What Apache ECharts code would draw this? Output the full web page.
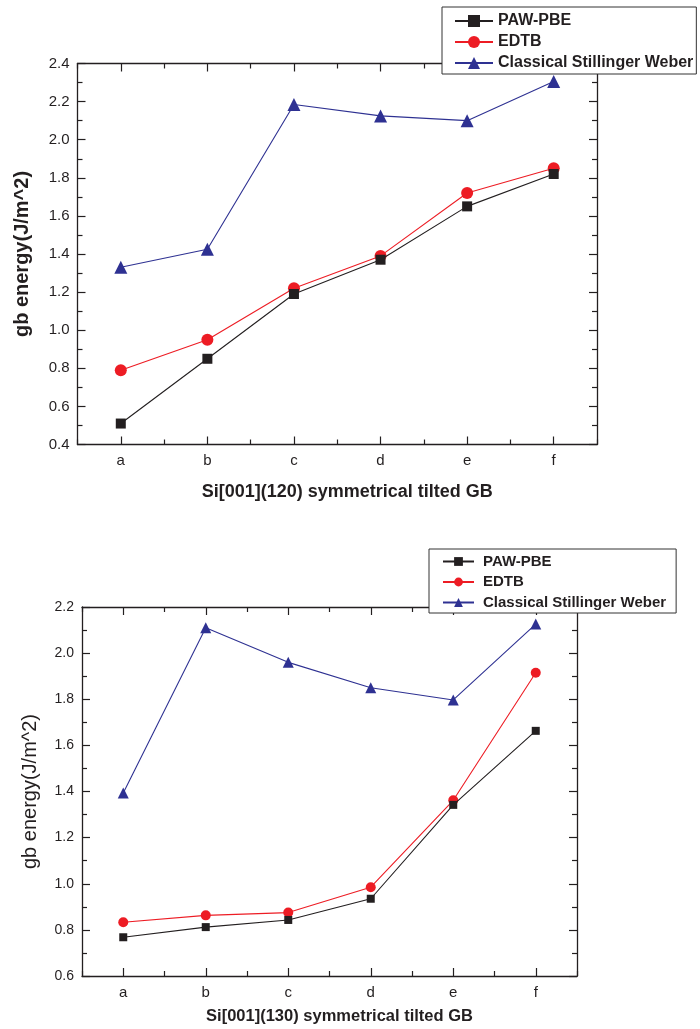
<!DOCTYPE html>
<html>
<head>
<meta charset="utf-8">
<script src="https://cdn.jsdelivr.net/npm/echarts@6/dist/echarts.min.js"></script>
<style>html,body{margin:0;padding:0;background:#fff;}#c{width:700px;height:1029px;}</style>
</head>
<body>
<div id="c"></div>
<script>
const categories = ['a', 'b', 'c', 'd', 'e', 'f'];
const seriesNames = ['PAW-PBE', 'EDTB', 'Classical Stillinger Weber'];
// Chart 1: Si[001](120)
const paw120 = [0.51, 0.85, 1.19, 1.37, 1.65, 1.82];
const edtb120 = [0.79, 0.95, 1.22, 1.39, 1.72, 1.85];
const sw120 = [1.33, 1.425, 2.185, 2.125, 2.10, 2.305];
// Chart 2: Si[001](130)
const paw130 = [0.768, 0.812, 0.843, 0.935, 1.342, 1.663];
const edtb130 = [0.833, 0.863, 0.875, 0.985, 1.362, 1.915];
const sw130 = [1.393, 2.11, 1.96, 1.85, 1.797, 2.126];
const yTicks120 = ['0.4','0.6','0.8','1.0','1.2','1.4','1.6','1.8','2.0','2.2','2.4'];
const yTicks130 = ['0.6','0.8','1.0','1.2','1.4','1.6','1.8','2.0','2.2'];
const xTitle120 = 'Si[001](120) symmetrical tilted GB';
const xTitle130 = 'Si[001](130) symmetrical tilted GB';
const yTitle = 'gb energy(J/m^2)';

const FONT = '"Liberation Sans", Arial, sans-serif';
const AX = '#231f20';
const colors = ['#231f20', '#ed1c24', '#2e3192'];
const symbols = ['rect', 'circle', 'triangle'];

function xAxes(gridIndex, labelSize, title, titleSize, gap) {
  const common = {type: 'category', data: categories, gridIndex: gridIndex, boundaryGap: true,
    axisLine: {show: true, onZero: false, lineStyle: {color: AX, width: 1.3}}, splitLine: {show: false}};
  return [
    Object.assign({}, common, {position: 'bottom',
      axisTick: {show: true, inside: true, alignWithLabel: true, length: 8, lineStyle: {color: AX, width: 1.2}},
      axisLabel: {show: true, margin: 9, fontFamily: FONT, fontSize: labelSize, color: AX},
      name: title, nameLocation: 'middle', nameGap: gap,
      nameTextStyle: {fontFamily: FONT, fontWeight: 'bold', fontSize: titleSize, color: AX, padding: [0, 0, 0, 20]}}),
    Object.assign({}, common, {position: 'bottom', axisLine: {show: false},
      axisTick: {show: true, inside: true, alignWithLabel: false, length: 5, lineStyle: {color: AX, width: 1.2}},
      axisLabel: {show: false}}),
    Object.assign({}, common, {position: 'top',
      axisTick: {show: true, inside: true, alignWithLabel: true, length: 8, lineStyle: {color: AX, width: 1.2}},
      axisLabel: {show: false}}),
    Object.assign({}, common, {position: 'top', axisLine: {show: false},
      axisTick: {show: true, inside: true, alignWithLabel: false, length: 5, lineStyle: {color: AX, width: 1.2}},
      axisLabel: {show: false}})
  ];
}
function yAxes(gridIndex, ticks, labelSize, titleBold, titleSize, gap) {
  const min = parseFloat(ticks[0]), max = parseFloat(ticks[ticks.length - 1]);
  const common = {type: 'value', gridIndex: gridIndex, min: min, max: max, interval: 0.2,
    axisLine: {show: true, onZero: false, lineStyle: {color: AX, width: 1.3}},
    axisTick: {show: true, inside: true, length: 8, lineStyle: {color: AX, width: 1.2}},
    minorTick: {show: true, splitNumber: 2, length: 5, lineStyle: {color: AX, width: 1.2}},
    splitLine: {show: false}, minorSplitLine: {show: false}};
  return [
    Object.assign({}, common, {position: 'left',
      axisLabel: {show: true, margin: 8, fontFamily: FONT, fontSize: labelSize, color: AX,
        formatter: v => v.toFixed(1)},
      name: yTitle, nameLocation: 'middle', nameGap: gap,
      nameTextStyle: {fontFamily: FONT, fontWeight: titleBold ? 'bold' : 'normal', fontSize: titleSize, color: AX}}),
    Object.assign({}, common, {position: 'right', axisLabel: {show: false}})
  ];
}
function makeSeries(xi, yi, datas, sizes) {
  return datas.map((d, i) => ({
    name: seriesNames[i], type: 'line', xAxisIndex: xi, yAxisIndex: yi, data: d,
    symbol: symbols[i], symbolSize: sizes[i], showAllSymbol: true,
    lineStyle: {color: colors[i], width: 1.1}, itemStyle: {color: colors[i]},
    emphasis: {disabled: true}, animation: false, z: 3 + (2 - i)
  }));
}

const chart = echarts.init(document.getElementById('c'), null, {renderer: 'canvas'});
const option = {
  backgroundColor: '#fff',
  animation: false,
  grid: [
    {left: 77.5, right: 103, top: 63.5, height: 381, containLabel: false},
    {left: 82, right: 123, top: 607, height: 369, containLabel: false}
  ],
  legend: [
    {orient: 'vertical', left: 442, top: 7, data: seriesNames,
      itemWidth: 38, itemHeight: 15, itemGap: 5, padding: [6, 3, 3, 12],
      backgroundColor: '#fff', borderColor: '#333', borderWidth: 1, selectedMode: false,
      textStyle: {fontFamily: FONT, fontWeight: 'bold', fontSize: 16, color: AX}},
    {orient: 'vertical', left: 429, top: 549, data: seriesNames,
      itemWidth: 31, itemHeight: 11, itemGap: 5.5, padding: [5, 10, 3, 13],
      backgroundColor: '#fff', borderColor: '#333', borderWidth: 1, selectedMode: false,
      textStyle: {fontFamily: FONT, fontWeight: 'bold', fontSize: 15, color: AX, padding: [0, 0, 0, 4]}}
  ],
  xAxis: xAxes(0, 15, xTitle120, 18, 39).concat(xAxes(1, 15, xTitle130, 16.5, 32)),
  yAxis: yAxes(0, yTicks120, 15, true, 20, 45).concat(yAxes(1, yTicks130, 14, false, 20, 42)),
  series: makeSeries(0, 0, [paw120, edtb120, sw120], [10, 12, 13])
    .concat(makeSeries(4, 2, [paw130, edtb130, sw130], [8, 10, 11]))
};
chart.setOption(option);
</script>
</body>
</html>
